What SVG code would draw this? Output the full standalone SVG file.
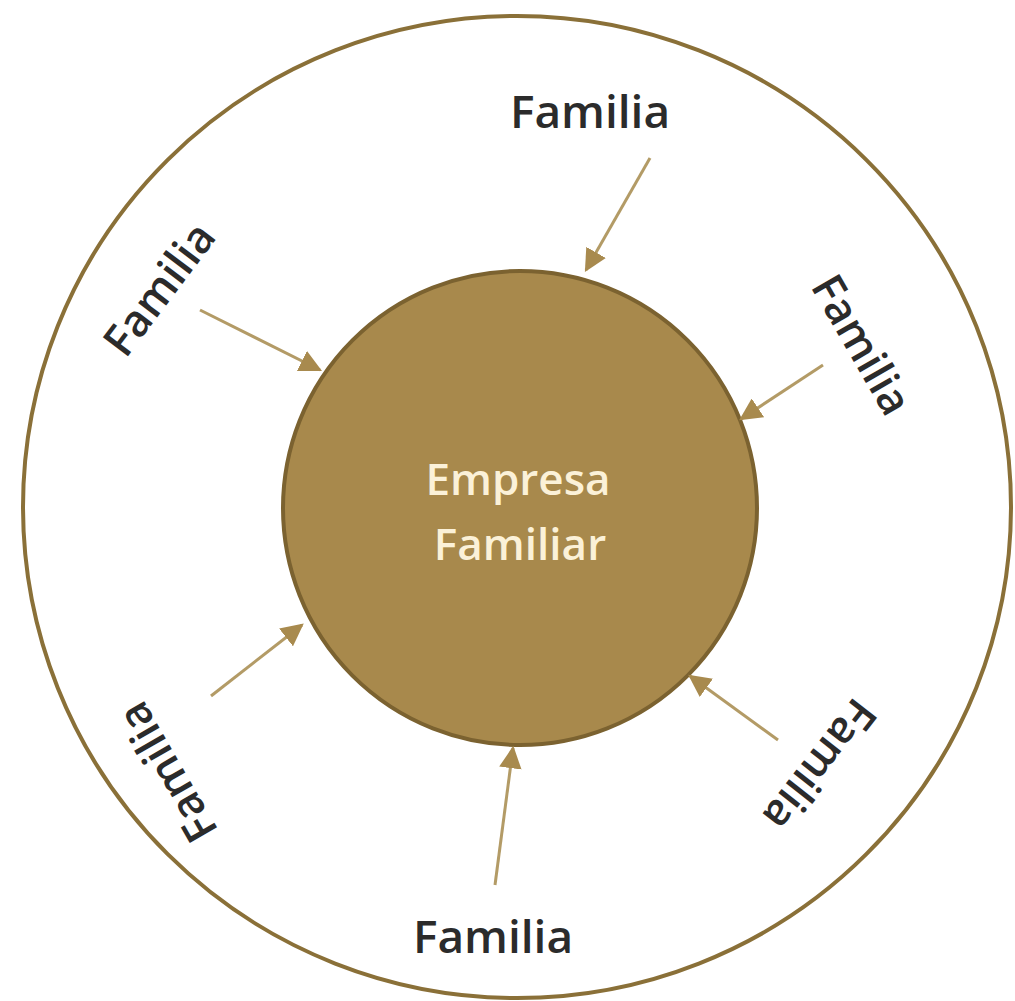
<svg xmlns="http://www.w3.org/2000/svg" width="1015" height="1001" viewBox="0 0 1015 1001">
<style>
.lbl{font-family:"Open Sans","Liberation Sans",sans-serif;font-weight:600;font-size:46px;fill:#2b2b2b;text-anchor:middle;dominant-baseline:central}
.rot{font-size:44px}
.ctr{font-family:"Open Sans","Liberation Sans",sans-serif;font-weight:600;font-size:44px;fill:#fbf1d8;text-anchor:middle}
.conn{stroke:#b39b66;stroke-width:3;fill:none;marker-end:url(#ah)}
</style>
<defs>
<marker id="ah" viewBox="0 0 10 10" refX="9" refY="5" markerWidth="7.5" markerHeight="7.5" markerUnits="strokeWidth" orient="auto">
<path d="M0,0 L10,5 L0,10 z" fill="#a88a4e"/>
</marker>
</defs>
<rect width="1015" height="1001" fill="#ffffff"/>
<g id="outer">
<ellipse cx="517" cy="507" rx="494" ry="491" fill="none" stroke="#8a7038" stroke-width="4"/>
</g>
<g id="center">
<circle cx="520" cy="508" r="237" fill="#a8894c" stroke="#7b6230" stroke-width="4"/>
<text class="ctr" x="518" y="495">Empresa</text>
<text class="ctr" x="520" y="560">Familiar</text>
</g>
<g id="connectors">
<line class="conn" x1="650" y1="158" x2="586" y2="270"/>
<line class="conn" x1="200" y1="310" x2="320" y2="370"/>
<line class="conn" x1="823" y1="365" x2="741" y2="419"/>
<line class="conn" x1="211" y1="696" x2="302" y2="625"/>
<line class="conn" x1="778" y1="740" x2="690" y2="676"/>
<line class="conn" x1="495" y1="885" x2="513" y2="748"/>
</g>
<g id="familia-top"><text class="lbl" x="590" y="110">Familia</text></g>
<g id="familia-upleft"><text class="lbl rot" transform="translate(158,288) rotate(-53)">Familia</text></g>
<g id="familia-upright"><text class="lbl rot" transform="translate(863,344) rotate(60)">Familia</text></g>
<g id="familia-lowleft"><text class="lbl rot" transform="translate(166,773) rotate(-120)">Familia</text></g>
<g id="familia-lowright"><text class="lbl rot" transform="translate(821,766) rotate(128)">Familia</text></g>
<g id="familia-bottom"><text class="lbl" x="493" y="935">Familia</text></g>
</svg>
